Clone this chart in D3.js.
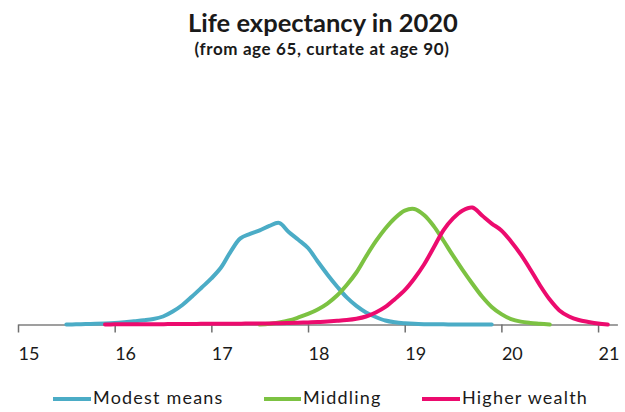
<!DOCTYPE html>
<html>
<head>
<meta charset="utf-8">
<script src="https://cdn.jsdelivr.net/npm/d3@7"></script>
<style>
  html, body { margin: 0; padding: 0; background: #ffffff; }
  svg { display: block; }
  text { font-family: Lato, "Open Sans", sans-serif; fill: #1a1a1a; }
</style>
</head>
<body>
<svg id="chart" width="625" height="412"></svg>
<script>
// Remaining life expectancy from age 65 (curtate at 90): distribution by wealth group
const ages = [
  15.5, 15.6, 15.7, 15.8, 15.9, 16.0, 16.1, 16.2, 16.3, 16.4,
  16.5, 16.6, 16.7, 16.8, 16.9, 17.0, 17.1, 17.2, 17.3, 17.4,
  17.5, 17.6, 17.7, 17.8, 17.9, 18.0, 18.1, 18.2, 18.3, 18.4,
  18.5, 18.6, 18.7, 18.8, 18.9, 19.0, 19.1, 19.2, 19.3, 19.4,
  19.5, 19.6, 19.7, 19.8, 19.9, 20.0, 20.1, 20.2, 20.3, 20.4,
  20.5, 20.6, 20.7, 20.8, 20.9, 21.0, 21.1
];

// density per group; null where the group has no mass
const modestMeans = [
  0.000, 0.001, 0.003, 0.004, 0.006, 0.009, 0.014, 0.020, 0.026, 0.034,
  0.050, 0.081, 0.122, 0.175, 0.231, 0.288, 0.356, 0.456, 0.538, 0.566,
  0.588, 0.616, 0.635, 0.578, 0.530, 0.478, 0.394, 0.313, 0.238, 0.169,
  0.116, 0.075, 0.047, 0.025, 0.014, 0.008, 0.004, 0.002, 0.001, 0.001,
  0.000, 0.000, 0.000, 0.000, 0.000, null, null, null, null, null,
  null, null, null, null, null, null, null
];

const middling = [
  null, null, null, null, null, null, null, null, null, null,
  null, null, null, null, null, null, null, null, null, null,
  0.000, 0.005, 0.013, 0.025, 0.044, 0.066, 0.094, 0.131, 0.181, 0.247,
  0.325, 0.425, 0.519, 0.600, 0.666, 0.712, 0.722, 0.684, 0.615, 0.525,
  0.430, 0.340, 0.255, 0.175, 0.110, 0.065, 0.034, 0.018, 0.010, 0.005,
  0.000, null, null, null, null, null, null
];

const higherWealth = [
  null, null, null, null, 0.000, 0.001, 0.001, 0.001, 0.002, 0.002,
  0.002, 0.003, 0.003, 0.003, 0.004, 0.004, 0.004, 0.005, 0.005, 0.006,
  0.006, 0.007, 0.008, 0.009, 0.011, 0.013, 0.015, 0.019, 0.023, 0.028,
  0.036, 0.050, 0.075, 0.110, 0.160, 0.215, 0.288, 0.375, 0.481, 0.588,
  0.663, 0.713, 0.731, 0.681, 0.631, 0.588, 0.519, 0.438, 0.344, 0.244,
  0.156, 0.088, 0.050, 0.028, 0.016, 0.006, 0.000
];

const seriesNames = ["Modest means", "Middling", "Higher wealth"];
const seriesValues = [modestMeans, middling, higherWealth];
const seriesColors = ["#4bacc6", "#7cc242", "#ec0b6e"];

const tickValues = [15, 16, 17, 18, 19, 20, 21];

const titleText = "Life expectancy in 2020";
const subtitleText = "(from age 65, curtate at age 90)";

const svg = d3.select("#chart");

const x = d3.scaleLinear().domain([15, 21.2]).range([18, 617.4]);
const y = d3.scaleLinear().domain([0, 1]).range([324.5, 164.5]);

// titles
svg.append("text")
  .attr("x", 323).attr("y", 32)
  .attr("text-anchor", "middle")
  .style("font-size", "25.5px").style("font-weight", "700")
  .text(titleText);

svg.append("text")
  .attr("x", 322).attr("y", 55)
  .attr("text-anchor", "middle")
  .style("font-size", "17px").style("font-weight", "700")
  .style("letter-spacing", "0.6px")
  .text(subtitleText);

// x axis
const axis = svg.append("g")
  .attr("transform", `translate(0,${y(0)})`)
  .call(d3.axisBottom(x).tickValues(tickValues).tickSize(8).tickSizeOuter(0).tickFormat(d3.format("d")));

axis.select(".domain").attr("stroke", "#7f7f7f").attr("stroke-width", 1.5);
axis.selectAll(".tick line").attr("stroke", "#6f6f6f").attr("stroke-width", 1.5);
axis.selectAll(".tick text")
  .attr("y", 35.5).attr("dy", 0)
  .attr("text-anchor", "start")
  .style("font-size", "18px")
  .style("font-family", "Lato, 'Open Sans', sans-serif")
  .attr("fill", "#1a1a1a");

// distribution curves
const line = d3.line()
  .defined(d => d[1] !== null)
  .x(d => x(d[0]))
  .y(d => y(d[1]))
  .curve(d3.curveCatmullRom.alpha(0.5));

seriesValues.forEach((vals, i) => {
  svg.append("path")
    .datum(ages.map((a, j) => [a, vals[j]]))
    .attr("fill", "none")
    .attr("stroke", seriesColors[i])
    .attr("stroke-width", 4)
    .attr("stroke-linejoin", "round")
    .attr("stroke-linecap", "round")
    .attr("d", line);
});

// legend
const legendItems = [
  { x0: 53, x1: 91 },
  { x0: 264, x1: 301 },
  { x0: 422, x1: 460 }
];
const legend = svg.append("g");
seriesNames.forEach((name, i) => {
  const it = legendItems[i];
  legend.append("line")
    .attr("x1", it.x0).attr("x2", it.x1)
    .attr("y1", 399).attr("y2", 399)
    .attr("stroke", seriesColors[i])
    .attr("stroke-width", 4);
  legend.append("text")
    .attr("x", it.x1 + 2).attr("y", 404)
    .style("font-size", "18px")
    .style("letter-spacing", "1.2px")
    .text(name);
});
</script>
</body>
</html>
